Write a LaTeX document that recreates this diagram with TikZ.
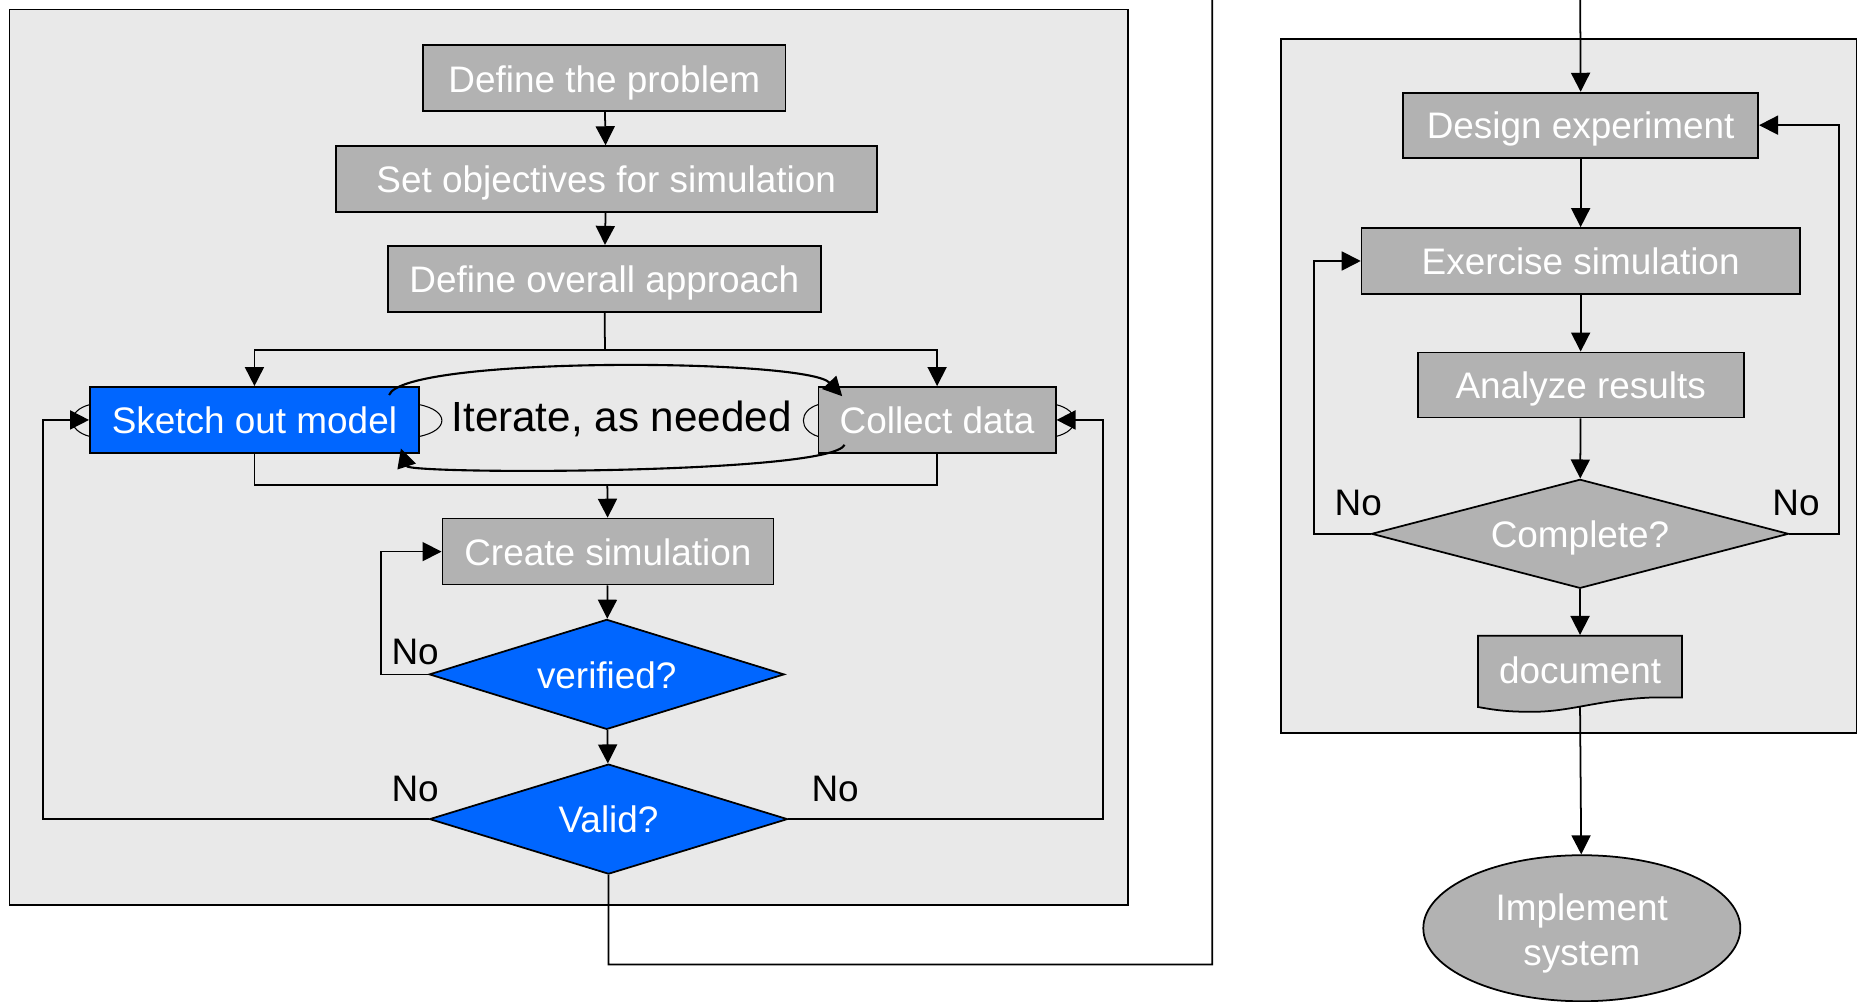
\documentclass[tikz,border=0pt]{standalone}
\usepackage{fontspec}
\setmainfont{Liberation Sans}
\usetikzlibrary{arrows.meta,shapes.geometric}
\definecolor{panelgray}{RGB}{233,233,233}
\definecolor{boxgray}{RGB}{178,178,178}
\definecolor{boxblue}{RGB}{0,102,255}
\tikzset{
  boxfont/.style={font=\fontsize{10.5}{12.8}\selectfont},
  box/.style={draw=black,fill=boxgray,text=white,minimum height=6.6mm,inner sep=0pt,boxfont,text height=0.88em,text depth=0.1em},
  bluebox/.style={box,fill=boxblue},
  decision/.style={box,shape=diamond,aspect=3.2,minimum height=11mm},
  arr/.style={-{Triangle[length=1.9mm,width=1.9mm]}},
  nolabel/.style={boxfont}
}
\begin{document}
\begin{tikzpicture}[x=0.1186mm,y=-0.1186mm,line width=0.5pt]
\clip (0,0) rectangle (1568,844);
\useasboundingbox (0,0) rectangle (1568,844);
% panels
\draw[fill=panelgray] (8,8) rectangle (951,763);
\draw[fill=panelgray] (1080,33) rectangle (1565,618);
% left panel
\node[box,minimum width=36.2mm] (problem) at (509.5,66) {Define the problem};
\node[box,minimum width=54.1mm] (objectives) at (511,151) {Set objectives for simulation};
\node[box,minimum width=43.3mm] (approach) at (509.5,235) {Define overall approach};
\node[bluebox,minimum width=32.9mm] (sketch) at (214.5,354) {Sketch out model};
\node[box,minimum width=23.7mm] (collect) at (790,354) {Collect data};
\node[font=\fontsize{12}{14}\selectfont] (iterate) at (524,353) {Iterate, as needed};
\node[box,minimum width=33.1mm] (create) at (512.5,465) {Create simulation};
\node[decision,fill=boxblue,minimum width=35.5mm] (verified) at (511.5,568.5) {verified?};
\node[decision,fill=boxblue,minimum width=35.8mm] (valid) at (513,690.5) {Valid?};
\node[nolabel] (noverified) at (350,550) {No};
\node[nolabel] (novalidl) at (350,665) {No};
\node[nolabel] (novalidr) at (704,665) {No};
% right panel
\node[box,minimum width=35.5mm,minimum height=6.5mm] (design) at (1332.5,105.5) {Design experiment};
\node[box,minimum width=43.8mm] (exercise) at (1332.5,220) {Exercise simulation};
\node[box,minimum width=32.6mm,minimum height=6.5mm] (analyze) at (1332.5,324.5) {Analyze results};
\node[decision,minimum width=41.7mm,minimum height=10.9mm] (complete) at (1332,450) {Complete?};
% document shape
\draw[fill=boxgray] (1246,536) -- (1418,536) -- (1418,588) -- (1392,588)
  .. controls (1345,590) and (1322,601) .. (1287,600)
  .. controls (1266,600) and (1252,597) .. (1246,596) -- cycle;
\node[box,draw=none,fill=none,minimum width=20.4mm,minimum height=6.88mm] (doc) at (1332,565) {document};
\coordinate (docbottom) at (1332,596);
\node[draw=black,fill=boxgray,shape=ellipse,minimum width=31.7mm,minimum height=14.6mm] (implement) at (1333.5,782.5) {};
\node[boxfont,text=white,align=center] (implementtext) at (1333.5,786.5) {Implement\\system};
\node[nolabel] (nocompletel) at (1145,424) {No};
\node[nolabel] (nocompleter) at (1514,424) {No};
\coordinate (split) at (510,295);
\coordinate (merge) at (512,409);
\coordinate (outa) at (1022,813);
\coordinate (outb) at (1332,-30);
% connectors
\draw[arr] (problem) -- (objectives);
\draw[arr] (objectives) -- (approach);
\draw (approach) -- (split);
\draw[arr] (split) -| (sketch);
\draw[arr] (split) -| (collect);
\draw (sketch) |- (merge) -| (collect);
\draw[arr] (merge) -- (create);
\draw[arr] (create) -- (verified);
\draw[arr] (verified) -- (valid);
\draw[arr] (verified.west) -- ++(-40,0) |- (create.west);
\draw[arr] (valid.west) -- (36,690.5) |- (sketch.west);
\draw[arr] (valid.east) -- (930,690.5) |- (collect.east);
\draw[arr] (valid.south) |- (outa) |- (outb) -- (design.north);
% iterate loop
\draw[arr,line width=0.6pt] (328,333) .. controls (340,300) and (680,302) .. (710,334);
\draw[arr,line width=0.6pt] (712,375) .. controls (700,400) and (345,400) .. (338,378);
\draw[line width=0.3pt] (76,341) .. controls (56,346) and (56,363) .. (76,368);
\draw[line width=0.3pt] (353,341) .. controls (379,346) and (379,363) .. (353,368);
\draw[line width=0.3pt] (690,341) .. controls (673,346) and (673,363) .. (690,368);
\draw[line width=0.3pt] (890,341) .. controls (911,346) and (911,363) .. (890,368);
% right connectors
\draw[arr] (design) -- (exercise);
\draw[arr] (exercise) -- (analyze);
\draw[arr] (analyze) -- (complete);
\draw[arr] (complete) -- (doc.north);
\draw[arr] (docbottom) -- (implement);
\draw[arr] (complete.west) -- (1108,450) |- (exercise.west);
\draw[arr] (complete.east) -- (1550,450) |- (design.east);
\end{tikzpicture}
\end{document}
